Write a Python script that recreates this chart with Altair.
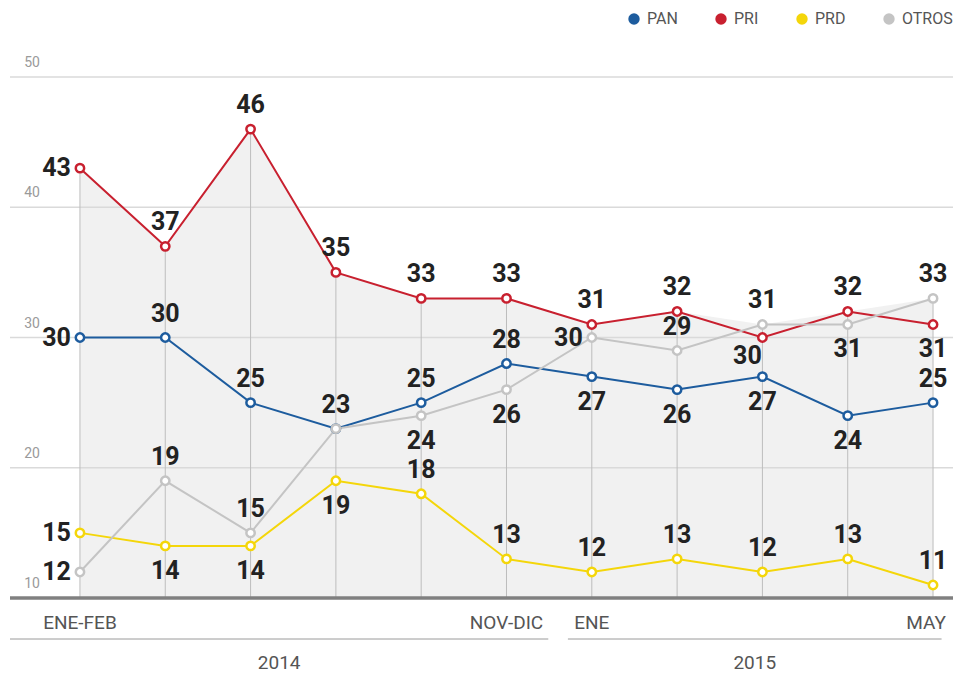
import altair as alt
import pandas as pd

# ---- data ----
periods = ["ENE-FEB", "MAR-ABR", "MAY-JUN", "JUL-AGO", "SEP-OCT", "NOV-DIC",
           "ENE", "FEB", "MAR", "ABR", "MAY"]
years = ["2014"] * 6 + ["2015"] * 5
parties = ["PAN", "PRI", "PRD", "OTROS"]
pan = [30, 30, 25, 23, 25, 28, 27, 26, 27, 24, 25]
pri = [43, 37, 46, 35, 33, 33, 31, 32, 30, 32, 31]
prd = [15, 14, 14, 19, 18, 13, 12, 13, 12, 13, 11]
otros = [12, 19, 15, 23, 24, 26, 30, 29, 31, 31, 33]
shown_ticks = ["ENE-FEB", "NOV-DIC", "ENE", "MAY"]
y_ticks = [10, 20, 30, 40, 50]

# label placement (style)
pan_pos = ["left", "above", "above", "above", "above", "above", "below", "below", "below", "below", "above"]
pri_pos = ["left", "above", "above", "above", "above", "above", "above", "above", "belowleft", "above", "below"]
prd_pos = ["left", "below", "below", "below", "above", "above", "above", "above", "above", "above", "above"]
otros_pos = ["left", "above", "above", "none", "below", "below", "left", "above", "above", "below", "above"]

colors = ["#1d5c9e", "#c8202f", "#f4d60a", "#c4c4c4"]
XMIN, XMAX = -0.82, 10.234
YEAR_SPANS = {"2014": (-0.82, 5.49), "2015": (5.72, 10.1)}

rows = []
for name, vals, pos in zip(parties, [pan, pri, prd, otros], [pan_pos, pri_pos, prd_pos, otros_pos]):
    for i, (v, p) in enumerate(zip(vals, pos)):
        rows.append({"idx": i, "period": periods[i], "year": years[i], "party": name, "value": v, "pos": p})
df = pd.DataFrame(rows)

last = len(periods) - 1
tick_df = pd.DataFrame({"idx": [last if t == periods[last] else periods.index(t) for t in shown_ticks],
                        "label": shown_ticks})
ylab_df = pd.DataFrame({"v": y_ticks})
grid_df = pd.DataFrame({"v": y_ticks[1:]})
year_df = pd.DataFrame({"year": list(YEAR_SPANS.keys()),
                        "x0": [s[0] for s in YEAR_SPANS.values()],
                        "x1": [s[1] for s in YEAR_SPANS.values()]})
base_df = pd.DataFrame({"v": [y_ticks[0]]})

xs = alt.Scale(domain=[XMIN, XMAX], nice=False, zero=False)
ys = alt.Scale(domain=[10, 50], nice=False, zero=False)
cs = alt.Scale(domain=parties, range=colors)
X = alt.X("idx:Q", scale=xs, axis=None)
YV = alt.Y("value:Q", scale=ys, axis=None)

base = alt.Chart(df)

# legend-only layer (first, so its legend settings win the merge); draws no rows
legend_layer = base.transform_filter("datum.idx < 0").mark_circle(size=130, opacity=1).encode(
    x=X, y=YV,
    fill=alt.Fill("party:N", scale=cs, legend=alt.Legend(
        title=None, orient="none", legendX=616, legendY=-66, direction="horizontal",
        symbolType="circle", symbolSize=130, symbolStrokeWidth=0, symbolOpacity=1,
        labelFont="Roboto", labelFontSize=16, labelColor="#555555", columnPadding=35,
        labelOffset=5, padding=0)))

area = base.transform_aggregate(top="max(value)", groupby=["idx"]).mark_area(
    color="#ececec", opacity=0.75
).encode(x=X, y=alt.Y("top:Q", scale=ys, axis=None), y2=alt.datum(10))

vrules = base.transform_aggregate(top="max(value)", groupby=["idx"]).mark_rule(
    color="#bdbdbd", strokeWidth=1
).encode(x=X, y=alt.Y("top:Q", scale=ys, axis=None), y2=alt.datum(10))

grid = alt.Chart(grid_df).mark_rule(color="#dadada", strokeWidth=1.5).encode(
    y=alt.Y("v:Q", scale=ys, axis=None))

baseline = alt.Chart(base_df).mark_rule(color="#808080", strokeWidth=3.5).encode(
    y=alt.Y("v:Q", scale=ys, axis=None))

ylabels = alt.Chart(ylab_df).mark_text(
    font="Roboto", fontSize=14, color="#9a9a9a", dy=-14, align="center"
).encode(x=alt.value(22), y=alt.Y("v:Q", scale=ys, axis=None), text="v:Q")

lines = base.mark_line(strokeWidth=2).encode(
    x=X, y=YV, stroke=alt.Stroke("party:N", scale=cs, legend=None), order="idx:Q")

points = base.mark_circle(fill="white", opacity=1, size=70, strokeWidth=2.5).encode(
    x=X, y=YV, stroke=alt.Stroke("party:N", scale=cs, legend=None))

def lbl(pos, **kw):
    return base.transform_filter(alt.datum.pos == pos).mark_text(
        font="Roboto", fontWeight="bold", fontSize=25, color="#222222", baseline="middle", **kw
    ).encode(x=X, y=YV, text="value:Q")

labels = (lbl("above", dy=-24) + lbl("below", dy=25) +
          lbl("left", align="right", dx=-9) + lbl("belowleft", dx=-15, dy=18))

tick_chart = alt.Chart(tick_df)
xlabels = tick_chart.transform_filter(alt.datum.idx < last).mark_text(
    font="Roboto", fontSize=19, color="#555555", baseline="middle"
).encode(x=alt.X("idx:Q", scale=xs, axis=None), y=alt.value(546), text="label:N")
xlabel_last = tick_chart.transform_filter(alt.datum.idx == last).mark_text(
    font="Roboto", fontSize=19, color="#555555", baseline="middle", align="right", dx=13
).encode(x=alt.X("idx:Q", scale=xs, axis=None), y=alt.value(546), text="label:N")

year_lines = alt.Chart(year_df).mark_rule(color="#9a9a9a", strokeWidth=1).encode(
    x=alt.X("x0:Q", scale=xs, axis=None), x2="x1:Q", y=alt.value(562))

year_labels = alt.Chart(year_df).transform_calculate(mid="(datum.x0 + datum.x1) / 2").mark_text(
    font="Roboto", fontSize=19, color="#555555", baseline="middle"
).encode(x=alt.X("mid:Q", scale=xs, axis=None), y=alt.value(586), text="year:N")

chart = alt.layer(
    legend_layer, area, grid, vrules, baseline, ylabels, lines, points, labels,
    xlabels, xlabel_last, year_lines, year_labels
).properties(
    width=943, height=521,
    autosize=alt.AutoSizeParams(type="none"),
    padding={"left": 2, "top": 69, "right": 0, "bottom": 75},
).configure_view(stroke=None)

chart.save("out.html", embed_options={"renderer": "svg", "actions": False})
